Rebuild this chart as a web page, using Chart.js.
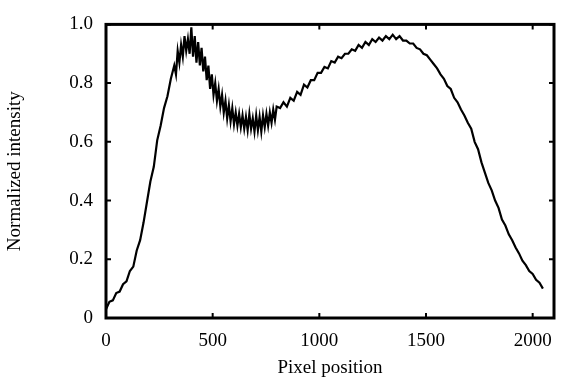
<!DOCTYPE html>
<html>
<head>
<meta charset="utf-8">
<script src="https://cdn.jsdelivr.net/npm/chart.js@4/dist/chart.umd.min.js"></script>
<style>
  body { margin: 0; background: #fff; }
  #wrap { width: 561px; height: 380px; }
</style>
</head>
<body>
<div id="wrap"><canvas id="myChart"></canvas></div>
<script>
// pixel index along the detector
const pixels = [
  0, 16, 32, 48, 64, 80, 96, 112, 128, 144, 160, 176, 192, 208, 224, 240,
  256, 272, 288, 304,
  320, 328, 336, 344, 352, 360, 368, 376, 384, 392, 400, 408, 416, 424, 432, 440,
  448, 456, 464, 472, 480, 488, 496, 504, 512, 520, 528, 536, 544, 552, 560, 568,
  576, 584, 592, 600, 608, 616, 624, 632, 640, 648, 656, 664, 672, 680, 688, 696,
  704, 712, 720, 728, 736, 744, 752, 760, 768, 776, 784, 792, 800,
  816, 832, 848, 864, 880, 896, 912, 928, 944, 960, 976, 992, 1008,
  1024, 1040, 1056, 1072, 1088, 1104, 1120, 1136, 1152, 1168, 1184, 1200, 1216, 1232, 1248, 1264,
  1280, 1296, 1312, 1328, 1344, 1360, 1376, 1392, 1408, 1424, 1440, 1456, 1472, 1488, 1504, 1520,
  1536, 1552, 1568, 1584, 1600, 1616, 1632, 1648, 1664, 1680, 1696, 1712, 1728, 1744, 1760, 1776,
  1792, 1808, 1824, 1840, 1856, 1872, 1888, 1904, 1920, 1936, 1952, 1968, 1984, 2000, 2016, 2032,
  2048
];
// normalized intensity
const intensity = [
  0.03, 0.055, 0.06, 0.085, 0.09, 0.115, 0.125, 0.16, 0.175, 0.23, 0.265, 0.325, 0.395, 0.465, 0.515, 0.605,
  0.655, 0.715, 0.755, 0.815,
  0.86, 0.83, 0.91, 0.87, 0.93, 0.89, 0.96, 0.91, 0.95, 0.90, 0.99, 0.89, 0.96, 0.87, 0.94, 0.86,
  0.92, 0.84, 0.89, 0.81, 0.86, 0.78, 0.83, 0.76, 0.80, 0.74, 0.78, 0.72, 0.76, 0.70, 0.74, 0.68,
  0.725, 0.67, 0.715, 0.66, 0.70, 0.655, 0.695, 0.65, 0.69, 0.645, 0.685, 0.64, 0.695, 0.645, 0.68, 0.635,
  0.69, 0.64, 0.685, 0.635, 0.69, 0.65, 0.695, 0.655, 0.70, 0.665, 0.71, 0.675, 0.72,
  0.715, 0.735, 0.72, 0.75, 0.74, 0.77, 0.76, 0.795, 0.785, 0.81, 0.81, 0.835, 0.835,
  0.855, 0.85, 0.875, 0.87, 0.89, 0.885, 0.90, 0.90, 0.915, 0.91, 0.93, 0.92, 0.94, 0.93, 0.95, 0.94,
  0.955, 0.945, 0.96, 0.95, 0.965, 0.95, 0.96, 0.945, 0.945, 0.935, 0.935, 0.92, 0.915, 0.90, 0.895, 0.88,
  0.865, 0.85, 0.83, 0.815, 0.79, 0.78, 0.75, 0.735, 0.71, 0.69, 0.665, 0.645, 0.60, 0.575, 0.53, 0.495,
  0.46, 0.435, 0.40, 0.375, 0.335, 0.315, 0.285, 0.265, 0.24, 0.22, 0.195, 0.18, 0.16, 0.15, 0.13, 0.12,
  0.10
];
const xTicks = [0, 500, 1000, 1500, 2000];
const yTicks = [0, 0.2, 0.4, 0.6, 0.8, 1.0];

const font = { family: '"Liberation Serif", "Times New Roman", serif', size: 19 };

// box around the plot with small inward ticks on every side
const framePlugin = {
  id: 'frame',
  afterDraw(chart) {
    const { ctx, chartArea: a, scales } = chart;
    ctx.save();
    ctx.strokeStyle = '#000';
    ctx.lineWidth = 2;
    xTicks.forEach(v => {
      const px = scales.x.getPixelForValue(v);
      ctx.beginPath();
      ctx.moveTo(px, a.bottom); ctx.lineTo(px, a.bottom - 5);
      ctx.moveTo(px, a.top); ctx.lineTo(px, a.top + 5);
      ctx.stroke();
    });
    yTicks.forEach(v => {
      const py = scales.y.getPixelForValue(v);
      ctx.beginPath();
      ctx.moveTo(a.left, py); ctx.lineTo(a.left + 5, py);
      ctx.moveTo(a.right, py); ctx.lineTo(a.right - 5, py);
      ctx.stroke();
    });
    ctx.lineWidth = 3;
    ctx.strokeRect(a.left, a.top, a.right - a.left, a.bottom - a.top);
    ctx.restore();
  }
};

new Chart(document.getElementById('myChart'), {
  type: 'line',
  data: {
    datasets: [{
      data: pixels.map((p, i) => ({ x: p, y: intensity[i] })),
      borderColor: '#000',
      borderWidth: 2.2,
      pointRadius: 0,
      tension: 0,
      fill: false
    }]
  },
  options: {
    responsive: true,
    maintainAspectRatio: false,
    animation: false,
    layout: { padding: { left: 0, right: 7, top: 20, bottom: 0 } },
    plugins: { legend: { display: false }, tooltip: { enabled: false } },
    scales: {
      x: {
        type: 'linear',
        min: 0,
        max: 2100,
        grid: { display: false, drawTicks: false },
        border: { display: false },
        afterFit(scale) { scale.height = 62; scale.paddingRight = 0; },
        afterBuildTicks(scale) { scale.ticks = xTicks.map(v => ({ value: v })); },
        ticks: { color: '#000', font, padding: 12, maxRotation: 0, callback: v => String(v) },
        title: { display: true, text: 'Pixel position', color: '#000', font, padding: { top: 0, bottom: 1 } }
      },
      y: {
        min: 0,
        max: 1,
        grid: { display: false, drawTicks: false },
        border: { display: false },
        afterFit(scale) { scale.width = 106; },
        afterBuildTicks(scale) { scale.ticks = yTicks.map(v => ({ value: v })); },
        ticks: {
          color: '#000', font, padding: 13,
          callback: v => (v === 0 ? '0' : v.toFixed(1))
        },
        title: { display: true, text: 'Normalized intensity', color: '#000', font, padding: { top: 4, bottom: 4 } }
      }
    }
  },
  plugins: [framePlugin]
});
</script>
</body>
</html>
